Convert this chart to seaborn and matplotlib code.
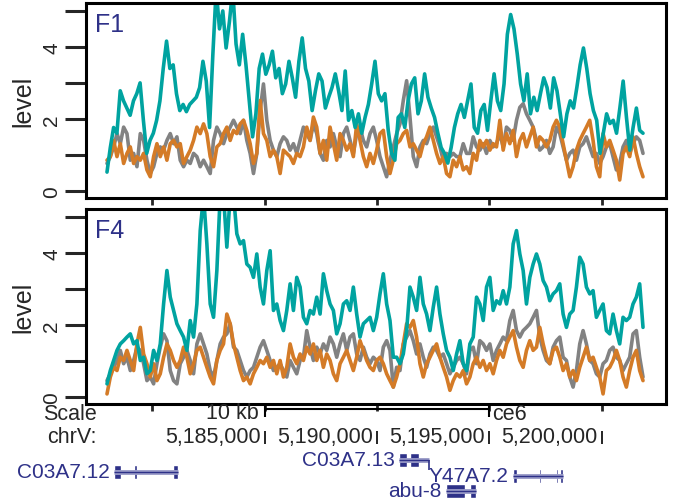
import matplotlib
matplotlib.use("Agg")
import matplotlib.pyplot as plt
import numpy as np
import seaborn as sns

# genomic window (chrV, ce6)
POS_START = 5_177_973
POS_END = 5_201_849
X_MIN = 5_177_038
X_MAX = 5_202_873
AXIS_TICKS = [5_180_000, 5_185_000, 5_190_000, 5_195_000, 5_200_000]
RULER_LABELS = [5_185_000, 5_190_000, 5_195_000, 5_200_000]
SCALE_BAR = [5_185_000, 5_195_000]

PANELS = ["F1", "F4"]
Y_TICKS = [0, 1, 2, 3, 4, 5]
Y_TICK_LABELS = ["0", "", "2", "", "4", ""]

F1_TEAL = [
    0.52, 1.2, 1.76, 1.6, 2.78, 2.5, 2.3, 2.1, 2.5, 2.7, 3.0, 1.96, 1.04, 1.4, 1.6, 1.96,
    2.5, 3.4, 4.16, 3.4, 3.5, 2.7, 2.23, 2.4, 2.2, 2.4, 2.5, 2.6, 2.87, 3.6, 3.05, 1.76,
    3.8, 5.6, 4.5, 5.0, 3.97, 4.7, 5.6, 4.08, 3.5, 4.35, 3.5, 2.5, 1.5, 2.14, 3.4, 3.8,
    3.24, 3.5, 3.88, 3.14, 3.4, 2.7, 2.97,
    3.6, 3.14, 2.6, 3.6, 4.25, 3.4, 3.05, 2.23, 2.78, 3.25, 3.05, 2.3, 2.6, 2.87, 3.25,
    2.78, 2.23, 3.33, 1.96, 2.23, 1.76, 2.14, 1.6, 2.04, 2.4, 2.97, 3.6, 2.7, 2.5, 2.7,
    1.68, 1.04, 0.85, 2.04, 2.14, 1.76, 2.5, 2.97, 3.14, 2.14, 2.5, 3.25, 2.6, 2.3, 2.04,
    1.6, 1.2, 1.04, 0.77, 1.2, 1.76, 2.14, 2.4, 2.04,
    2.5, 2.97, 1.76, 1.6, 2.23, 2.4, 1.68, 2.5, 3.25, 2.5, 2.23, 2.97, 4.35, 4.9, 4.5,
    3.8, 2.97, 2.5, 3.25, 2.14, 2.6, 2.23, 2.7, 3.14, 2.87, 2.3, 3.14, 2.78, 2.14, 1.5,
    2.14, 2.5, 2.3, 2.87, 3.5, 3.97, 3.4, 2.7, 2.23, 1.96, 1.04, 1.6, 2.14, 1.87, 1.96,
    1.6, 2.3, 3.05, 2.04, 1.13, 1.76, 2.3, 1.68, 1.6,
]
F1_GRAY = [
    0.76, 0.95, 1.22, 1.59, 1.31, 1.77, 1.59, 0.85, 1.04, 0.67, 1.59, 1.4, 0.85, 0.48,
    0.67, 1.04, 1.22, 1.13, 1.4, 1.59, 1.31, 1.5, 0.85, 0.67, 0.85, 0.76, 1.04, 0.95,
    0.67, 0.85, 0.67, 0.48, 1.4, 1.77, 1.59, 1.31, 1.59, 1.77, 1.96, 1.77, 1.59, 1.96,
    1.4, 1.04, 0.48, 1.04, 2.23, 2.97, 1.96, 1.4, 1.13, 0.95, 1.31, 1.5, 1.4,
    1.13, 1.31, 1.04, 1.4, 1.77, 1.59, 1.4, 1.86, 1.59, 1.04, 0.85, 1.4, 1.22, 1.59,
    1.22, 0.95, 1.59, 1.77, 1.4, 1.04, 1.59, 1.77, 1.4, 1.22, 1.59, 1.77, 1.4, 0.95,
    0.67, 0.39, 0.85, 1.22, 1.59, 1.86, 2.51, 3.06, 2.05, 0.95, 0.67, 1.22, 1.4, 1.31,
    1.59, 1.77, 1.5, 1.22, 0.85, 1.04, 0.95, 1.04, 0.95, 0.95, 1.31, 1.04,
    1.04, 1.5, 1.22, 1.13, 1.31, 1.04, 1.4, 1.22, 1.31, 1.59, 1.22, 1.77, 1.68, 1.4,
    1.96, 2.32, 2.42, 2.14, 1.96, 1.77, 1.4, 1.13, 1.22, 1.4, 1.04, 1.22, 1.77, 1.59,
    1.22, 0.85, 1.04, 1.13, 0.85, 1.22, 1.31, 1.5, 1.22, 0.95, 1.04, 0.76, 0.95, 1.22,
    1.31, 0.95, 0.58, 0.76, 1.22, 1.4, 1.04, 1.31, 1.5, 1.4, 1.04,
]
F1_ORANGE = [
    0.85, 0.95, 1.4, 0.95, 1.31, 0.76, 1.04, 1.22, 0.76, 0.95, 0.85, 1.04, 0.58, 0.39,
    0.95, 1.31, 0.95, 1.22, 0.85, 1.31, 1.4, 1.22, 1.31, 0.76, 0.95, 1.13, 1.4, 1.77,
    1.59, 1.86, 1.59, 0.95, 0.67, 1.22, 1.31, 1.59, 1.77, 1.4, 1.68, 1.59, 1.86, 1.96,
    1.68, 1.31, 0.76, 1.04, 2.51, 1.59, 1.4, 0.95, 1.13, 0.95, 0.48, 1.13, 1.04,
    0.95, 0.76, 1.04, 0.95, 1.22, 1.77, 1.4, 2.05, 1.77, 1.04, 1.4, 0.85, 1.77, 1.31,
    0.85, 1.59, 1.4, 1.13, 1.31, 0.95, 1.86, 1.4, 0.95, 0.67, 1.04, 0.76, 1.13, 1.59,
    1.68, 0.95, 0.48, 0.85, 1.31, 1.4, 1.59, 1.68, 1.22, 1.31, 1.13, 0.95, 1.31, 1.5,
    1.77, 1.4, 1.04, 0.76, 0.95, 0.48, 0.39, 0.85, 0.67, 0.95, 0.58, 0.67,
    0.48, 1.04, 0.85, 1.4, 1.22, 1.4, 1.13, 1.31, 1.22, 1.96, 1.13, 1.59, 1.31, 1.68,
    0.95, 1.4, 1.59, 1.22, 1.5, 1.77, 1.22, 1.5, 1.4, 1.22, 1.4, 1.77, 1.96, 1.77, 1.31,
    0.85, 0.39, 0.67, 1.13, 1.4, 1.59, 1.77, 1.96, 1.4, 0.67, 0.39, 1.59, 1.22, 1.4,
    1.13, 0.85, 0.3, 1.04, 1.22, 0.95, 1.5, 1.04, 0.67, 0.39,
]

F4_TEAL = [
    0.36, 0.73, 1.01, 1.29, 1.47, 1.56, 1.66, 1.75, 1.47, 1.56, 1.01, 1.10, 0.64, 0.73,
    1.29, 1.01, 1.47, 2.58, 3.51, 2.77, 2.4, 2.03, 1.84, 1.66, 1.29, 2.12, 1.66, 2.58,
    4.62, 5.6, 4.25, 2.58, 2.21, 3.51, 5.6, 5.6, 4.16, 5.6, 5.6, 4.53, 4.25, 4.34, 3.69,
    3.6, 3.32, 3.97, 3.05, 2.58, 3.51, 4.06, 2.4, 2.58, 2.12, 1.84, 2.4,
    3.14, 2.4, 3.32, 3.05, 2.21, 2.03, 2.4, 2.3, 2.77, 2.3, 3.42, 2.95, 2.58, 2.4, 1.75,
    2.03, 2.58, 2.67, 2.4, 3.05, 2.3, 1.66, 2.03, 2.12, 2.21, 1.84, 2.21, 2.86, 3.42,
    2.58, 2.12, 1.10, 1.10, 0.92, 1.19, 1.84, 3.05, 2.77, 2.4, 3.32, 2.58, 2.3, 1.84,
    2.49, 3.05, 2.3, 1.75, 1.29, 1.10, 0.73, 1.19, 1.56, 0.92, 0.73,
    1.47, 1.66, 2.77, 2.58, 2.12, 3.05, 3.32, 2.4, 2.67, 2.58, 2.95, 2.58, 3.05, 4.25,
    4.62, 3.97, 3.51, 2.58, 3.32, 3.69, 3.97, 3.69, 3.23, 3.05, 2.67, 2.86, 2.95, 3.14,
    2.3, 1.93, 2.3, 2.4, 3.05, 3.88, 3.69, 3.05, 2.86, 2.95, 2.21, 2.4, 2.58, 1.84, 1.75,
    2.3, 1.84, 1.47, 2.21, 2.12, 2.21, 2.58, 2.77, 3.14, 1.93,
]
F4_GRAY = [
    0.45, 0.64, 0.82, 1.01, 1.29, 0.92, 1.10, 0.73, 1.01, 1.38, 1.29, 0.92, 0.45, 0.55,
    0.36, 0.92, 1.38, 1.75, 1.56, 0.73, 0.45, 0.36, 0.92, 1.10, 1.29, 1.01, 0.64, 1.47,
    1.75, 1.47, 1.19, 0.73, 0.55, 1.01, 1.47, 1.66, 1.75, 2.03, 1.38, 1.29, 1.01, 0.73,
    0.55, 0.73, 0.82, 1.10, 1.38, 1.56, 1.29, 1.01, 0.73, 0.82, 0.92, 0.73, 0.55,
    1.01, 0.82, 0.64, 1.01, 1.10, 1.84, 1.38, 1.01, 1.38, 1.19, 1.47, 1.29, 1.66, 1.47,
    1.10, 1.47, 1.75, 1.29, 1.66, 1.75, 1.19, 1.01, 1.38, 1.10, 0.92, 1.10, 1.01, 0.73,
    1.38, 1.56, 1.29, 0.27, 0.82, 0.73, 1.47, 1.66, 1.84, 1.56, 1.19, 1.47, 1.10, 0.82,
    1.19, 1.38, 1.29, 1.10, 1.19, 0.92, 0.64, 0.82, 1.01, 1.10, 0.92, 0.64,
    1.29, 1.38, 0.92, 1.56, 1.47, 1.29, 1.47, 1.01, 1.29, 1.47, 1.66, 1.56, 2.12, 2.4,
    1.84, 1.66, 1.84, 1.93, 2.03, 2.21, 2.4, 1.66, 1.29, 1.01, 0.92, 1.38, 1.56, 1.66,
    1.10, 1.01, 0.55, 0.27, 0.73, 1.47, 1.84, 1.47, 1.01, 0.92, 0.64, 0.55, 0.92, 1.01,
    1.29, 1.38, 1.10, 1.01, 0.73, 0.92, 1.10, 1.75, 1.84, 1.10, 0.55,
]
F4_ORANGE = [
    0.08, 0.55, 0.82, 0.73, 1.10, 1.01, 1.29, 1.01, 0.73, 1.47, 1.93, 1.19, 0.92, 0.55,
    0.92, 0.45, 0.64, 1.10, 1.47, 1.29, 1.01, 0.82, 1.01, 1.38, 1.10, 0.64, 0.92, 1.29,
    1.38, 1.10, 0.82, 0.55, 0.36, 1.01, 1.29, 1.47, 2.30, 2.03, 1.47, 1.10, 0.73, 0.45,
    0.55, 0.36, 0.64, 0.82, 1.01, 0.92, 1.10, 0.82, 1.01, 0.64, 1.01, 0.55, 0.82,
    1.47, 1.10, 0.92, 1.19, 1.01, 1.38, 1.19, 1.47, 1.01, 1.29, 0.82, 1.19, 1.01, 0.64,
    0.45, 0.92, 1.10, 1.29, 1.01, 0.73, 1.10, 1.56, 1.29, 1.01, 0.82, 0.73, 1.01, 1.10,
    0.92, 0.64, 0.45, 0.27, 0.55, 0.92, 1.47, 2.03, 1.93, 2.12, 1.66, 0.92, 0.55, 0.92,
    1.10, 1.29, 1.47, 1.10, 0.82, 0.55, 0.18, 0.45, 0.64, 0.55, 0.73, 0.36,
    0.55, 0.92, 1.10, 0.82, 1.01, 0.73, 0.92, 0.64, 1.01, 1.29, 1.10, 1.47, 1.66, 1.84,
    1.38, 1.01, 0.82, 1.29, 1.56, 1.29, 1.38, 1.93, 1.47, 1.10, 0.92, 1.29, 1.38, 1.10,
    0.73, 0.92, 0.55, 0.73, 0.45, 0.82, 1.10, 1.38, 1.01, 1.10, 0.82, 0.55, 0.08, 0.73,
    0.82, 1.01, 1.29, 1.01, 0.55, 0.27, 0.73, 1.10, 1.29, 0.73, 0.45,
]

GENE_NAMES = ["C03A7.12", "C03A7.13", "Y47A7.2", "abu-8"]
GENE_STARTS = [5_178_285, 5_190_980, 5_196_058, 5_193_073]
GENE_ENDS = [5_181_136, 5_192_316, 5_198_285, 5_194_410]
GENE_EXONS = [
    [(5_178_285, 5_178_597), (5_179_198, 5_179_310), (5_180_913, 5_181_136)],
    [(5_190_980, 5_191_336), (5_191_470, 5_191_871)],
    [(5_196_058, 5_196_236), (5_197_216, 5_197_305), (5_197_973, 5_198_062),
     (5_198_151, 5_198_285)],
    [(5_193_073, 5_193_942), (5_194_143, 5_194_410)],
]

TEAL = "#00A3A0"
GRAY = "#828282"
ORANGE = "#D47B27"
NAVY = "#2E3188"

W, H = 673, 502


def draw_panel(ax, name, gray, orange, teal):
    for values, color in [(gray, GRAY), (orange, ORANGE), (teal, TEAL)]:
        pos = np.linspace(POS_START, POS_END, len(values))
        sns.lineplot(x=pos, y=values, ax=ax, color=color, linewidth=2.6,
                     estimator=None, sort=False)
    ax.set_xlim(X_MIN, X_MAX)
    ax.set_ylim(-0.2, 5.22)
    ax.set_xticks(AXIS_TICKS)
    ax.set_yticks(Y_TICKS)
    ax.set_yticklabels(Y_TICK_LABELS)
    ax.tick_params(axis="x", length=5, width=2, labelbottom=False, direction="out")
    ax.tick_params(axis="y", length=15, width=2.2, labelsize=15, pad=3,
                   labelrotation=90, direction="out")
    for lbl in ax.get_yticklabels():
        lbl.set_va("center")
    for spine in ax.spines.values():
        spine.set_visible(True)
        spine.set_linewidth(2.2)
        spine.set_color("black")
    ax.set_xlabel("")
    ax.set_ylabel("level", fontsize=18, labelpad=5)
    ax.text(0.016, 0.955, name, transform=ax.transAxes, fontsize=18,
            color=NAVY, ha="left", va="top")


def main():
    sns.set_theme(style="ticks")
    plt.rcParams["font.family"] = ["Liberation Sans", "DejaVu Sans"]

    fig = plt.figure(figsize=(W / 100, H / 100), dpi=100)
    left, width = 86 / W, 580 / W
    ax1 = fig.add_axes([left, 1 - 199 / H, width, 195 / H])
    ax2 = fig.add_axes([left, 1 - 405 / H, width, 195 / H])
    draw_panel(ax1, PANELS[0], F1_GRAY, F1_ORANGE, F1_TEAL)
    draw_panel(ax2, PANELS[1], F4_GRAY, F4_ORANGE, F4_TEAL)

    # ruler + gene track below the panels (y in pixels below the lower panel)
    ax3 = fig.add_axes([left, 0, width, 97 / H])
    ax3.set_xlim(X_MIN, X_MAX)
    ax3.set_ylim(97, 0)
    ax3.axis("off")

    fs = 15.5
    fig.text(97 / W, 1 - 414 / H, "Scale", ha="right", va="center", fontsize=fs)
    fig.text(97 / W, 1 - 438 / H, "chrV:", ha="right", va="center", fontsize=fs)

    bar_y = 5
    ax3.hlines(bar_y, SCALE_BAR[0], SCALE_BAR[1], color="black", linewidth=1.5)
    ax3.vlines(SCALE_BAR, -1, 13, color="black", linewidth=1.5)
    ax3.annotate("10 kb", xy=(SCALE_BAR[0], 9), xytext=(-4, 0),
                 textcoords="offset points", ha="right", va="center", fontsize=fs)
    ax3.annotate("ce6", xy=(SCALE_BAR[1], 10), xytext=(2, 0),
                 textcoords="offset points", ha="left", va="center", fontsize=fs)

    for p in RULER_LABELS:
        ax3.vlines(p, 27, 40, color="black", linewidth=1.2)
        ax3.annotate(f"{p:,}", xy=(p, 33), xytext=(-3, 0),
                     textcoords="offset points", ha="right", va="center",
                     fontsize=fs)

    gene_rows = [68, 56, 72, 87]
    for name, start, end, exons, row in zip(GENE_NAMES, GENE_STARTS, GENE_ENDS,
                                            GENE_EXONS, gene_rows):
        ax3.hlines(row, start, end, color="#9A9BC8", linewidth=3.5)
        ax3.hlines(row, start, end, color=NAVY, linewidth=1.0)
        ax3.broken_barh([(a, b - a) for a, b in exons], (row - 7, 14),
                        facecolors=NAVY)
        ax3.annotate(name, xy=(start, row), xytext=(-3, 0),
                     textcoords="offset points", ha="right", va="center",
                     fontsize=15, color=NAVY)
    ax3.vlines(GENE_ENDS[1], gene_rows[1], gene_rows[2] - 6, color=NAVY,
               linewidth=1.2)

    fig.savefig("out.png", dpi=100)
    plt.close(fig)


if __name__ == "__main__":
    main()
